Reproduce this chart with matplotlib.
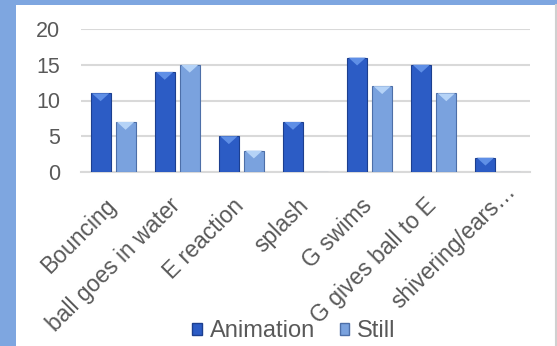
import numpy as np
import matplotlib.pyplot as plt
from matplotlib.patches import Rectangle, Patch, Polygon
from matplotlib.lines import Line2D
from matplotlib.transforms import ScaledTranslation

plt.rcParams['font.family'] = ['Liberation Sans', 'DejaVu Sans']

# chart data
categories = ["Bouncing", "ball goes in water", "E reaction", "splash",
              "G swims", "G gives ball to E", "shivering/ears\u2026"]
animation = [11, 14, 5, 7, 16, 15, 2]
still = [7, 15, 3, 0, 12, 11, 0]
yticks = [0, 5, 10, 15, 20]

dark_blue = "#2c5cc5"
light_blue = "#7aa2de"
text_grey = "#595959"

fig = plt.figure(figsize=(5.57, 3.46), dpi=100)
fig.patch.set_facecolor("#7ea6e0")
# white chart panel over the blue frame
panel = Rectangle((16 / 557, 0), 541 / 557, 341 / 346,
                  transform=fig.transFigure, facecolor="white",
                  edgecolor="none", zorder=-10)
fig.add_artist(panel)
fig.add_artist(Line2D([555.5 / 557, 555.5 / 557], [0, 341 / 346],
                      transform=fig.transFigure, color="#d0d0d0",
                      linewidth=1.5, zorder=-9))

ax = fig.add_axes([81 / 557, 1 - 172 / 346, 449 / 557, 143 / 346])
ax.set_facecolor("none")

x = np.arange(len(categories))
w = 0.31
b1 = ax.bar(x - 0.195, animation, w, color=dark_blue, edgecolor="#1c3f8f",
            linewidth=0.8, zorder=3)
b2 = ax.bar(x + 0.195, still, w, color=light_blue, edgecolor="#4d6fa8",
            linewidth=0.8, zorder=3)

# bevel highlight at the top of each bar
for bars, hl in [(b1, "#5f8fe6"), (b2, "#b5d3f7")]:
    for r in bars:
        h = r.get_height()
        if h <= 0:
            continue
        x0, bw = r.get_x(), r.get_width()
        tri = Polygon([[x0 + 0.02, h], [x0 + bw - 0.02, h], [x0 + bw / 2, h - 1.1]],
                      closed=True, facecolor=hl, edgecolor="none", zorder=4)
        ax.add_patch(tri)

ax.set_xlim(-0.5, len(categories) - 0.5)
ax.set_ylim(0, 20)
ax.set_yticks(yticks)
ax.tick_params(axis="y", length=0, pad=15, labelsize=15.5, labelcolor=text_grey)
ax.grid(axis="y", color="#d9d9d9", linewidth=1.5, zorder=0)
for s in ["top", "right", "left"]:
    ax.spines[s].set_visible(False)
ax.spines["bottom"].set_color("#d9d9d9")
ax.spines["bottom"].set_linewidth(1.5)

ax.set_xticks(x)
ax.set_xticklabels(categories, rotation=45, ha="right", rotation_mode="anchor",
                   fontsize=16.5, color=text_grey)
ax.tick_params(axis="x", length=0, pad=16)
shift = ScaledTranslation(-9 / 100, 0, fig.dpi_scale_trans)
labels = ax.get_xticklabels()
for lab in labels:
    lab.set_transform(lab.get_transform() + shift)
# the truncated label's ellipsis hangs past the anchor in the original
labels[-1].set_transform(labels[-1].get_transform() +
                         ScaledTranslation(15 / 100, 15 / 100, fig.dpi_scale_trans))

handles = [Patch(facecolor=dark_blue, edgecolor="#1c3f8f", label="Animation"),
           Patch(facecolor=light_blue, edgecolor="#4d6fa8", label="Still")]
fig.legend(handles=handles, loc="center", bbox_to_anchor=(0.5274, 0.042), ncol=2,
           frameon=False, fontsize=17, handlelength=0.42, handleheight=0.42,
           handletextpad=0.3, columnspacing=1.05, labelcolor=text_grey,
           borderpad=0.1)

fig.savefig("out.png", dpi=100, facecolor=fig.get_facecolor())
